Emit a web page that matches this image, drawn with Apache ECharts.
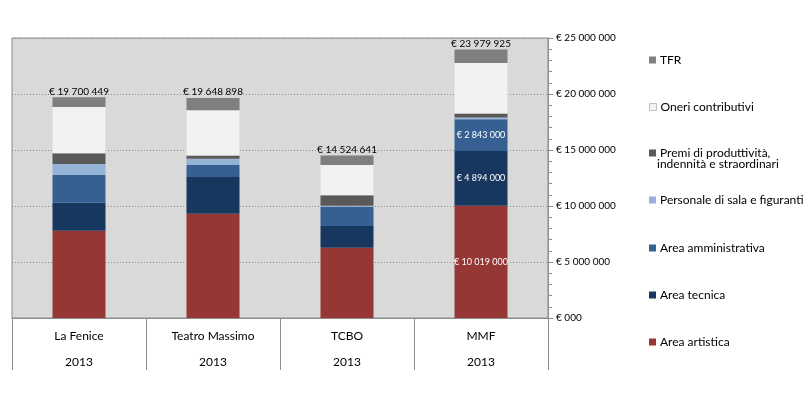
<!DOCTYPE html>
<html>
<head>
<meta charset="utf-8">
<script src="https://cdn.jsdelivr.net/npm/echarts@6/dist/echarts.min.js"></script>
<style>
  html, body { margin: 0; padding: 0; background: #fff; }
  #chart { width: 810px; height: 398px; }
</style>
</head>
<body>
<div id="chart"></div>
<script>
// dati (euro)
var categories = ['La Fenice', 'Teatro Massimo', 'TCBO', 'MMF'];
var years = ['2013', '2013', '2013', '2013'];
var areaArtistica = [7800000, 9300000, 6280000, 10019000];
var areaTecnica = [2500000, 3300000, 1930000, 4894000];
var areaAmministrativa = [2470000, 1070000, 1720000, 2843000];
var personaleSala = [980000, 550000, 100000, 150000];
var premi = [950000, 280000, 920000, 350000];
var oneri = [4140000, 4050000, 2710000, 4520000];
var tfr = [860000, 1100000, 860000, 1200000];
var totals = [19700449, 19648898, 14524641, 23979925];
var shownValues = [false, false, false, true]; // etichette interne solo per MMF

var font = 'Lato';

function euro(v) {
  if (v === 0) return '€ 000';
  return '€ ' + String(Math.round(v)).replace(/\B(?=(\d{3})+(?!\d))/g, ' ');
}

function withLabels(arr) {
  return arr.map(function (v, i) {
    if (!shownValues[i]) return v;
    return {
      value: v,
      label: { show: true, position: 'inside', color: '#fff', fontSize: 9, fontFamily: font,
        formatter: function (p) { return euro(p.value); } }
    };
  });
}

var seriesDefs = [
  { name: 'Area artistica', data: withLabels(areaArtistica), color: '#953735' },
  { name: 'Area tecnica', data: withLabels(areaTecnica), color: '#17375e' },
  { name: 'Area amministrativa', data: withLabels(areaAmministrativa), color: '#376092' },
  { name: 'Personale di sala e figuranti', data: personaleSala, color: '#95b3d7' },
  { name: 'Premi di produttività, indennità e straordinari', data: premi, color: '#595959' },
  { name: 'Oneri contributivi', data: oneri, color: '#f2f2f2' },
  { name: 'TFR', data: tfr, color: '#7f7f7f' }
];

// posizione verticale delle voci di legenda
var legendY = { 'TFR': 59, 'Oneri contributivi': 106, 'Premi di produttività, indennità e straordinari': 152,
  'Personale di sala e figuranti': 199, 'Area amministrativa': 247, 'Area tecnica': 294, 'Area artistica': 341 };

var series = seriesDefs.map(function (s, idx) {
  var obj = {
    name: s.name,
    type: 'bar',
    stack: 'tot',
    barWidth: 53,
    data: s.data,
    itemStyle: { color: s.color },
    emphasis: { disabled: true }
  };
  if (s.name === 'TFR') {
    obj.label = {
      show: true, position: 'top', distance: 1, color: '#000', fontSize: 10, fontFamily: font,
      formatter: function (p) { return euro(totals[p.dataIndex]); }
    };
  }
  return obj;
});

var legends = seriesDefs.map(function (s) {
  return {
    data: [s.name === 'Oneri contributivi'
      ? { name: s.name, itemStyle: { borderColor: '#c0c0c0', borderWidth: 1 } }
      : s.name],
    left: 644,
    top: legendY[s.name] - 10,
    icon: 'rect',
    itemWidth: 7,
    itemHeight: 7,
    itemGap: 4,
    selectedMode: false,
    textStyle: { fontFamily: font, fontSize: 12, color: '#000', padding: [0, 0, 0, -1] },
    formatter: function (n) {
      return n === 'Premi di produttività, indennità e straordinari' ? 'Premi di produttività,' : n;
    }
  };
});

var chart = echarts.init(document.getElementById('chart'));
chart.setOption({
  animation: false,
  backgroundColor: '#fff',
  textStyle: { fontFamily: font },
  grid: {
    left: 12, right: 262, top: 38, bottom: 80,
    show: true, backgroundColor: '#d9d9d9', borderColor: '#8c8c8c', borderWidth: 1
  },
  legend: legends,
  graphic: [{
    type: 'text', x: 657, y: 164,
    style: { text: 'indennità e straordinari', font: '12px ' + font, fill: '#000', verticalAlign: 'middle' }
  }],
  xAxis: {
    type: 'category',
    data: categories,
    axisLine: { lineStyle: { color: '#8c8c8c' } },
    axisTick: { show: true, length: 52, lineStyle: { color: '#8c8c8c' } },
    axisLabel: {
      margin: 5,
      interval: 0,
      formatter: function (v, i) { return '{a|' + v + '}\n{a|' + years[i] + '}'; },
      rich: { a: { fontFamily: font, fontSize: 12, color: '#000', lineHeight: 26 } }
    }
  },
  yAxis: {
    type: 'value',
    position: 'right',
    min: 0,
    max: 25000000,
    interval: 5000000,
    axisLine: { show: true, lineStyle: { color: '#8c8c8c' } },
    axisTick: { show: true, length: 5, lineStyle: { color: '#8c8c8c' } },
    minorTick: { show: true, splitNumber: 5, length: 4, lineStyle: { color: '#8c8c8c' } },
    splitLine: { show: true, lineStyle: { color: '#8c8c8c', type: [1, 2] } },
    axisLabel: { margin: 8, fontFamily: font, fontSize: 10, color: '#000', formatter: euro }
  },
  series: series
});
</script>
</body>
</html>
